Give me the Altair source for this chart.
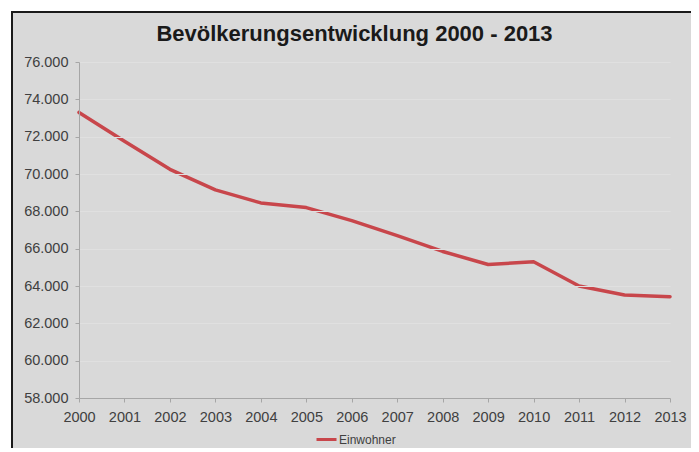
import altair as alt
import pandas as pd

years = [2000, 2001, 2002, 2003, 2004, 2005, 2006, 2007, 2008, 2009, 2010, 2011, 2012, 2013]
einwohner = [73300, 71750, 70250, 69150, 68450, 68200, 67500, 66700, 65850, 65150, 65300, 64000, 63520, 63430]
series_name = "Einwohner"
y_ticks = [58000, 60000, 62000, 64000, 66000, 68000, 70000, 72000, 74000, 76000]
title_text = "Bevölkerungsentwicklung 2000 - 2013"

df = pd.DataFrame({"Jahr": years, "Einwohner": einwohner, "Serie": [series_name] * len(years)})

FONT = "Liberation Sans"
BG = "#d9d9d9"
LINE = "#c8464b"

frame = alt.Chart(pd.DataFrame({"k": [0]})).mark_rect(
    fill=BG, stroke="#1a1a1a", strokeWidth=2
).encode(
    x=alt.value(-67), x2=alt.value(640), y=alt.value(-50), y2=alt.value(420)
)

line = alt.Chart(df).mark_line(strokeWidth=3.5, strokeCap="round", strokeJoin="round").encode(
    x=alt.X("Jahr:Q",
            scale=alt.Scale(domain=[2000, 2013], nice=False, zero=False),
            axis=alt.Axis(values=years, format="d", title=None, grid=False,
                          labelOverlap=False, labelFlush=False,
                          domainColor="#a6a6a6", tickColor="#a6a6a6", tickSize=4,
                          labelFont=FONT, labelFontSize=14.5, labelColor="#404040",
                          labelPadding=8, zindex=1)),
    y=alt.Y("Einwohner:Q",
            scale=alt.Scale(domain=[58000, 76000], nice=False, zero=False),
            axis=alt.Axis(values=y_ticks, title=None,
                          labelExpr="replace(format(datum.value, ',.0f'), ',', '.')",
                          grid=True, gridColor="#e0e0e0", gridWidth=1,
                          domainColor="#a6a6a6", tickColor="#a6a6a6", tickSize=4,
                          labelFont=FONT, labelFontSize=14.5, labelColor="#404040",
                          labelPadding=7, zindex=1)),
    color=alt.Color("Serie:N", scale=alt.Scale(range=[LINE]),
                    legend=alt.Legend(title=None, orient="none", legendX=236, legendY=366,
                                      symbolType="stroke", symbolSize=400, symbolStrokeWidth=3,
                                      labelFont=FONT, labelFontSize=12, labelColor="#404040",
                                      labelOffset=1)),
)

chart = alt.layer(frame, line).properties(
    width=591, height=336,
    title=alt.TitleParams(title_text, font=FONT, fontSize=22, fontWeight="bold",
                          color="#1a1a1a", anchor="middle", frame="group", dx=-20, offset=-35),
    autosize=alt.AutoSizeParams(type="none"),
    padding={"left": 71, "top": 54, "right": 21, "bottom": 50},
).configure(background="white").configure_view(stroke=None)

chart.save("out.html", embed_options={"renderer": "svg", "actions": False})
